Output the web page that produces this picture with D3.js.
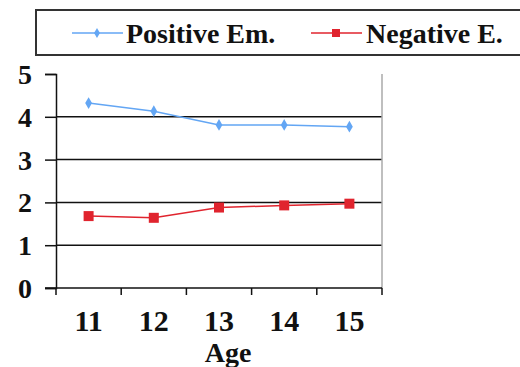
<!DOCTYPE html>
<html>
<head>
<meta charset="utf-8">
<script src="https://cdn.jsdelivr.net/npm/d3@7/dist/d3.min.js"></script>
<style>
  html, body { margin: 0; padding: 0; background: #fff; }
  svg { display: block; }
  text { font-family: "Liberation Serif", "Times New Roman", serif; font-weight: bold; fill: #111; }
</style>
</head>
<body>
<svg id="chart" width="520" height="367"></svg>
<script>
// Mean emotion scores by age
const ages = ["11", "12", "13", "14", "15"];
const positiveEm = [4.32, 4.13, 3.81, 3.81, 3.77];
const negativeE = [1.68, 1.64, 1.88, 1.93, 1.97];
const yTicks = [0, 1, 2, 3, 4, 5];
const seriesNames = ["Positive Em.", "Negative E."];
const seriesColors = ["#63a6f4", "#e0242e"];

const svg = d3.select("#chart");
const plot = { left: 56, right: 382, top: 74, bottom: 288 };

const x = d3.scaleBand().domain(ages).range([plot.left, plot.right]).padding(0);
const y = d3.scaleLinear().domain([0, 5]).range([plot.bottom, plot.top]);

// horizontal gridlines
svg.append("g")
  .selectAll("line")
  .data(yTicks.filter(d => d > 0 && d < 5))
  .join("line")
  .attr("x1", plot.left).attr("x2", plot.right)
  .attr("y1", d => y(d)).attr("y2", d => y(d))
  .attr("stroke", "#111").attr("stroke-width", 1.5);

// right frame edge
svg.append("line")
  .attr("x1", plot.right).attr("x2", plot.right)
  .attr("y1", plot.top).attr("y2", plot.bottom)
  .attr("stroke", "#aaa").attr("stroke-width", 1.5);

// y axis
const yAxis = svg.append("g")
  .attr("transform", `translate(${plot.left},0)`)
  .call(d3.axisLeft(y).tickValues(yTicks).tickSize(11).tickPadding(13).tickFormat(d3.format("d")));
yAxis.select(".domain").attr("stroke", "#111").attr("stroke-width", 1.5);
yAxis.selectAll(".tick line").attr("stroke", "#111").attr("stroke-width", 1.5);
yAxis.selectAll("text").style("font-size", "28px").attr("fill", "#111").attr("dy", "0.34em");

// x axis with ticks between categories
const xEdges = [...ages.map(a => x(a)), plot.right];
const xAxis = svg.append("g");
xAxis.append("line")
  .attr("x1", plot.left - 11).attr("x2", plot.right)
  .attr("y1", plot.bottom).attr("y2", plot.bottom)
  .attr("stroke", "#111").attr("stroke-width", 1.5);
xAxis.selectAll("line.tick")
  .data(xEdges)
  .join("line").attr("class", "tick")
  .attr("x1", d => d).attr("x2", d => d)
  .attr("y1", plot.bottom).attr("y2", plot.bottom + 7)
  .attr("stroke", "#111").attr("stroke-width", 1.5);
xAxis.selectAll("text")
  .data(ages)
  .join("text")
  .attr("x", d => x(d) + x.bandwidth() / 2)
  .attr("y", 330.5)
  .attr("text-anchor", "middle")
  .style("font-size", "30px")
  .text(d => d);

svg.append("text")
  .attr("x", 228).attr("y", 362)
  .attr("text-anchor", "middle")
  .style("font-size", "28px")
  .text("Age");

// series lines and markers
const cx = d => x(d) + x.bandwidth() / 2;
const line = d3.line().x((d, i) => cx(ages[i])).y(d => y(d));

svg.append("path").datum(positiveEm)
  .attr("d", line).attr("fill", "none")
  .attr("stroke", seriesColors[0]).attr("stroke-width", 1.5);
svg.append("g").selectAll("path")
  .data(positiveEm)
  .join("path")
  .attr("transform", (d, i) => `translate(${cx(ages[i])},${y(d)})`)
  .attr("d", d3.symbol().type(d3.symbolDiamond).size(40))
  .attr("fill", seriesColors[0]);

svg.append("path").datum(negativeE)
  .attr("d", line).attr("fill", "none")
  .attr("stroke", seriesColors[1]).attr("stroke-width", 1.5);
svg.append("g").selectAll("rect")
  .data(negativeE)
  .join("rect")
  .attr("x", (d, i) => cx(ages[i]) - 5)
  .attr("y", d => y(d) - 5)
  .attr("width", 10).attr("height", 10)
  .attr("fill", seriesColors[1]);

// legend
const legend = svg.append("g");
legend.append("rect")
  .attr("x", 36).attr("y", 10)
  .attr("width", 500).attr("height", 45)
  .attr("fill", "none").attr("stroke", "#333").attr("stroke-width", 2);

const legendItems = [
  { name: seriesNames[0], color: seriesColors[0], x0: 72, tx: 126, marker: "diamond" },
  { name: seriesNames[1], color: seriesColors[1], x0: 311, tx: 366, marker: "square" }
];
legendItems.forEach(it => {
  legend.append("line")
    .attr("x1", it.x0).attr("x2", it.x0 + 51)
    .attr("y1", 33).attr("y2", 33)
    .attr("stroke", it.color).attr("stroke-width", 1.5);
  if (it.marker === "diamond") {
    legend.append("path")
      .attr("transform", `translate(${it.x0 + 25},33)`)
      .attr("d", d3.symbol().type(d3.symbolDiamond).size(30))
      .attr("fill", it.color);
  } else {
    legend.append("rect")
      .attr("x", it.x0 + 21).attr("y", 29)
      .attr("width", 8).attr("height", 8)
      .attr("fill", it.color);
  }
  legend.append("text")
    .attr("x", it.tx).attr("y", 43)
    .style("font-size", "28px")
    .text(it.name);
});
</script>
</body>
</html>
